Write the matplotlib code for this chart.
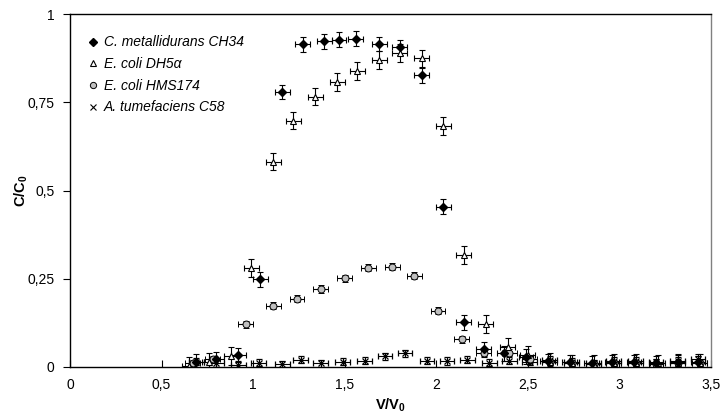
import matplotlib
matplotlib.use("Agg")
import matplotlib.pyplot as plt
from matplotlib.lines import Line2D
from matplotlib.ticker import FuncFormatter

plt.rcParams['font.family'] = ['Liberation Sans', 'DejaVu Sans']
plt.rcParams['mathtext.fontset'] = 'custom'
plt.rcParams['mathtext.rm'] = 'Liberation Sans'
plt.rcParams['mathtext.bf'] = 'Liberation Sans:bold'

# C. metallidurans CH34
ch34_x = [0.69, 0.80, 0.92, 1.04, 1.16, 1.27, 1.39, 1.47, 1.56, 1.69, 1.80, 1.92, 2.04,
          2.15, 2.26, 2.37, 2.49, 2.61, 2.73, 2.85, 2.96, 3.08, 3.20, 3.32, 3.43]
ch34_y = [0.015, 0.022, 0.034, 0.249, 0.779, 0.914, 0.923, 0.927, 0.930, 0.915, 0.906, 0.826, 0.454,
          0.127, 0.050, 0.039, 0.029, 0.017, 0.013, 0.010, 0.013, 0.013, 0.010, 0.013, 0.015]
ch34_xerr = 0.04
ch34_yerr = 0.021

# E. coli DH5a
dh5a_x = [0.65, 0.76, 0.88, 0.99, 1.11, 1.22, 1.34, 1.46, 1.57, 1.69, 1.80, 1.92, 2.04,
          2.15, 2.27, 2.39, 2.50, 2.62, 2.74, 2.86, 2.97, 3.09, 3.21, 3.32, 3.44]
dh5a_y = [0.003, 0.015, 0.031, 0.280, 0.582, 0.698, 0.766, 0.808, 0.839, 0.870, 0.889, 0.874, 0.683,
          0.317, 0.121, 0.058, 0.034, 0.015, 0.010, 0.008, 0.012, 0.012, 0.010, 0.012, 0.012]
dh5a_xerr = 0.04
dh5a_yerr = 0.025

# E. coli HMS174
hms_x = [0.67, 0.78, 0.96, 1.11, 1.24, 1.37, 1.50, 1.63, 1.76, 1.88, 2.01, 2.14, 2.26,
         2.40, 2.51, 2.62, 2.74, 2.86, 2.97, 3.09, 3.20, 3.32, 3.44]
hms_y = [0.010, 0.022, 0.121, 0.173, 0.193, 0.221, 0.251, 0.281, 0.284, 0.258, 0.160, 0.079, 0.041,
         0.040, 0.022, 0.014, 0.010, 0.008, 0.010, 0.010, 0.008, 0.010, 0.010]
hms_xerr = 0.04
hms_yerr = 0.01

# A. tumefaciens C58
c58_x = [0.69, 0.80, 0.92, 1.03, 1.16, 1.26, 1.37, 1.49, 1.61, 1.72, 1.83, 1.95, 2.06,
         2.17, 2.29, 2.40, 2.51, 2.62, 2.74, 2.86, 2.97, 3.09, 3.20, 3.32, 3.43]
c58_y = [0.015, 0.010, 0.006, 0.012, 0.008, 0.020, 0.010, 0.015, 0.018, 0.031, 0.039, 0.018, 0.017,
         0.020, 0.012, 0.018, 0.015, 0.020, 0.015, 0.010, 0.017, 0.017, 0.013, 0.017, 0.022]
c58_xerr = 0.04
c58_yerr = 0.01

labels = ["C. metallidurans CH34", "E. coli DH5\u03b1", "E. coli HMS174", "A. tumefaciens C58"]
x_ticks = [0, 0.5, 1, 1.5, 2, 2.5, 3, 3.5]
y_ticks = [0, 0.25, 0.5, 0.75, 1]

fig = plt.figure(figsize=(7.24, 4.16), dpi=100)
ax = fig.add_axes([0.0967, 0.1178, 0.885, 0.8485])

eb = dict(ls='none', ecolor='black', elinewidth=0.8, capsize=2.5, capthick=0.8)
ax.errorbar(c58_x, c58_y, xerr=c58_xerr, yerr=c58_yerr, marker='x', ms=5, mec='black', mew=0.9, **eb)
ax.errorbar(hms_x, hms_y, xerr=hms_xerr, yerr=hms_yerr, marker='o', ms=5, mfc='#c0c0c0', mec='black', mew=0.7, **eb)
ax.errorbar(dh5a_x, dh5a_y, xerr=dh5a_xerr, yerr=dh5a_yerr, marker='^', ms=5, mfc='white', mec='black', mew=0.8, **eb)
ax.errorbar(ch34_x, ch34_y, xerr=ch34_xerr, yerr=ch34_yerr, marker='D', ms=4.5, mfc='black', mec='black', **eb)

ax.set_xlim(0, 3.5)
ax.set_ylim(0, 1)
ax.set_xticks(x_ticks)
ax.set_yticks(y_ticks)
fmt = FuncFormatter(lambda v, p: ('%g' % v).replace('.', ','))
ax.xaxis.set_major_formatter(fmt)
ax.yaxis.set_major_formatter(fmt)
ax.tick_params(axis='x', direction='in', length=5, width=0.8, labelsize=10, pad=8)
ax.tick_params(axis='y', direction='out', length=5, width=0.8, labelsize=10, pad=6)

for s in ['left', 'bottom', 'top']:
    ax.spines[s].set_color('black')
    ax.spines[s].set_linewidth(1.0)
ax.spines['right'].set_color('#808080')
ax.spines['right'].set_linewidth(1.0)

ax.set_xlabel(r'$\mathbf{V/V_0}$', fontsize=10.5, labelpad=3)
ax.set_ylabel(r'$\mathbf{C/C_0}$', fontsize=10.5)
ax.yaxis.set_label_coords(-0.062, 0.5)

handles = [
    Line2D([], [], ls='none', marker='D', ms=4, mfc='black', mec='black'),
    Line2D([], [], ls='none', marker='^', ms=5, mfc='white', mec='black', mew=0.8),
    Line2D([], [], ls='none', marker='o', ms=4.5, mfc='#c0c0c0', mec='black', mew=0.7),
    Line2D([], [], ls='none', marker='x', ms=5, mec='black', mew=0.8),
]
ax.legend(handles, labels, loc='upper left', bbox_to_anchor=(0.018, 0.955), frameon=False,
          prop={'style': 'italic', 'size': 10}, handlelength=0.8, handletextpad=0.4,
          labelspacing=0.55, borderaxespad=0)

fig.savefig('out.png', dpi=100)
